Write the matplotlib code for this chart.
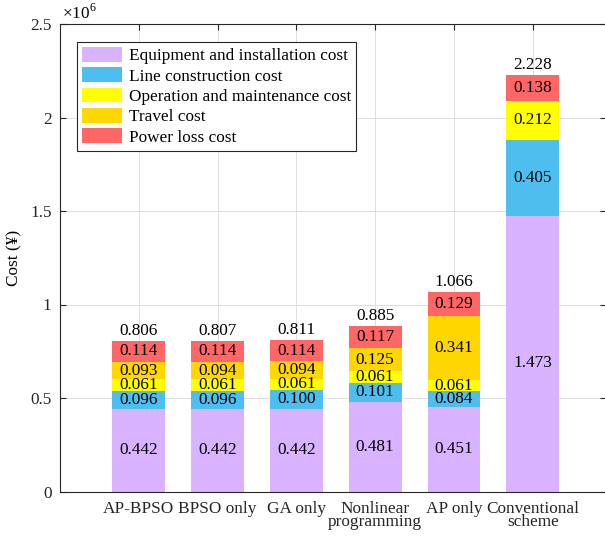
import matplotlib
matplotlib.use("Agg")
import matplotlib.pyplot as plt
import numpy as np

plt.rcParams["font.family"] = ["Liberation Serif", "DejaVu Serif"]
plt.rcParams["mathtext.fontset"] = "custom"
plt.rcParams["mathtext.rm"] = "Liberation Serif"

# costs in units of 1e6 yuan
schemes = ["AP-BPSO", "BPSO only", "GA only", "Nonlinear\nprogramming", "AP only", "Conventional\nscheme"]
equipment = [0.442, 0.442, 0.442, 0.481, 0.451, 1.473]
line_build = [0.096, 0.096, 0.100, 0.101, 0.084, 0.405]
operation = [0.061, 0.061, 0.061, 0.061, 0.061, 0.212]
travel = [0.093, 0.094, 0.094, 0.125, 0.341, 0.0]
power_loss = [0.114, 0.114, 0.114, 0.117, 0.129, 0.138]
totals = [0.806, 0.807, 0.811, 0.885, 1.066, 2.228]

series = [equipment, line_build, operation, travel, power_loss]
names = ["Equipment and installation cost", "Line construction cost",
         "Operation and maintenance cost", "Travel cost", "Power loss cost"]
colors = ["#D9B3FF", "#4DBEEE", "#FFFF00", "#FFD700", "#FF6666"]

W, H = 605, 537
fig = plt.figure(figsize=(W / 100, H / 100), dpi=100)
ax = fig.add_axes([60 / W, (H - 491.5) / H, 546 / W, 467.5 / H])

x = np.arange(1, len(schemes) + 1)
fs = 12.4
bottom = np.zeros(len(schemes))
for vals, name, col in zip(series, names, colors):
    vals = np.array(vals)
    ax.bar(x, vals, width=0.67, bottom=bottom, color=col, label=name, zorder=2)
    for xi, b, v in zip(x, bottom, vals):
        if v > 0:
            # tall segments get their label a little below the middle
            ypos = b + v / 2 if v < 1 else b + v * 0.465
            ax.text(xi, ypos, f"{v:.3f}", ha="center", va="center", fontsize=fs, zorder=3)
    bottom += vals

for xi, t in zip(x, totals):
    ax.annotate(f"{t:.3f}", (xi, t), xytext=(0, 1.5), textcoords="offset points",
                ha="center", va="bottom", fontsize=fs, zorder=3)

ax.set_xlim(0, 6.93)
ax.set_ylim(0, 2.5)
ax.set_xticks(x)
ax.set_xticklabels(schemes, fontsize=fs, linespacing=0.72)
ax.set_yticks([0, 0.5, 1, 1.5, 2, 2.5])
ax.set_yticklabels(["0", "0.5", "1", "1.5", "2", "2.5"], fontsize=fs)
ax.set_ylabel("Cost (¥)", fontsize=fs)
ax.yaxis.set_label_coords(-38 / 546, 0.5)
ax.text(0.004, 1.003, r"$\times10^{6}$", transform=ax.transAxes, ha="left", va="bottom", fontsize=fs)

ax.tick_params(direction="in", length=4, width=0.8, top=True, right=True, colors="#262626")
ax.tick_params(axis="x", pad=7)
ax.tick_params(axis="y", pad=6)
ax.grid(True, color="#dfdfdf", linewidth=0.7, zorder=0)
ax.set_axisbelow(True)
for s in ax.spines.values():
    s.set_color("#262626")
    s.set_linewidth(0.8)

leg = ax.legend(loc="upper left", bbox_to_anchor=(17 / 546, 1 - 18 / 467.5), fontsize=fs, fancybox=False,
                edgecolor="#262626", framealpha=1, handlelength=2.3, handleheight=0.92,
                labelspacing=0.18, borderpad=0.3, handletextpad=0.4, borderaxespad=0)
leg.get_frame().set_linewidth(0.8)

fig.savefig("out.png", dpi=100)
